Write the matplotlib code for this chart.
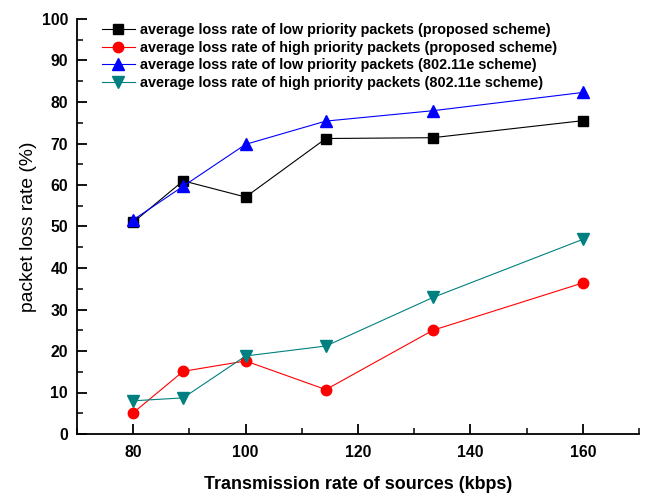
import matplotlib
matplotlib.use("Agg")
import matplotlib.pyplot as plt
from matplotlib.ticker import MultipleLocator

rates = [800/10, 800/9, 800/8, 800/7, 800/6, 800/5]
low_prop = [51.0, 61.0, 57.1, 71.2, 71.4, 75.5]
high_prop = [5.1, 15.1, 17.6, 10.7, 25.0, 36.4]
low_80211e = [51.6, 59.7, 69.8, 75.4, 77.9, 82.3]
high_80211e = [8.0, 8.7, 18.8, 21.2, 32.9, 46.9]

labels = [
    "average loss rate of low priority packets (proposed scheme)",
    "average loss rate of high priority packets (proposed scheme)",
    "average loss rate of low priority packets (802.11e scheme)",
    "average loss rate of high priority packets (802.11e scheme)",
]

plt.rcParams['font.family'] = ['Liberation Sans', 'DejaVu Sans']

fig = plt.figure(figsize=(6.47, 4.93), dpi=100)
ax = fig.add_axes([77/647, 59/493, (639-77)/647, (434-19)/493])

ax.plot(rates, low_prop, color='black', lw=0.8, marker='s', ms=6.5, mfc='black', mec='black', label=labels[0])
ax.plot(rates, high_prop, color='red', lw=0.8, marker='o', ms=7.5, mfc='red', mec='red', label=labels[1])
ax.plot(rates, low_80211e, color='blue', lw=0.8, marker='^', ms=8, mfc='blue', mec='blue', label=labels[2])
ax.plot(rates, high_80211e, color='#008080', lw=0.8, marker='v', ms=8, mfc='#008080', mec='#008080', label=labels[3])

ax.set_xlim(70, 170)
ax.set_ylim(0, 100)
ax.xaxis.set_major_locator(MultipleLocator(20))
ax.xaxis.set_minor_locator(MultipleLocator(10))
ax.yaxis.set_major_locator(MultipleLocator(10))
ax.yaxis.set_minor_locator(MultipleLocator(5))
ax.set_xticks([80, 100, 120, 140, 160])

for s in ['top', 'right']:
    ax.spines[s].set_visible(False)
for s in ['left', 'bottom']:
    ax.spines[s].set_linewidth(1.3)

ax.tick_params(which='major', direction='in', length=7, width=1.3, labelsize=11.3)
ax.tick_params(axis='y', which='major', pad=6.5)
ax.tick_params(axis='x', which='major', pad=8)
ax.tick_params(which='minor', direction='in', length=4, width=1.1)
for lab in ax.get_xticklabels() + ax.get_yticklabels():
    lab.set_fontweight('bold')

ax.set_xlabel("Transmission rate of sources (kbps)", fontsize=12.9, fontweight='bold', labelpad=11.5)
ax.set_ylabel("packet loss rate (%)", fontsize=13.9, labelpad=3)

leg = ax.legend(loc='upper left', bbox_to_anchor=(0.044, 0.99), frameon=False,
                prop={'weight': 'bold', 'size': 10.4}, handlelength=2.3,
                handletextpad=0.35, labelspacing=0.25, borderaxespad=0, borderpad=0)

fig.savefig("out.png", dpi=100)
